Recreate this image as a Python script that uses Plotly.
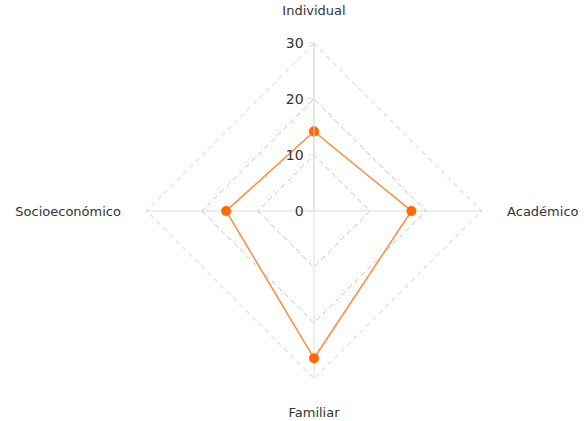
import plotly.graph_objects as go

categories = ["Individual", "Académico", "Familiar", "Socioeconómico"]
values = [14.2, 17.4, 26.3, 15.7]
radial_ticks = [0, 10, 20, 30]
r_max = 30

grid_color = "#c6c6c6"
grid_dash = "5px,4px"

fig = go.Figure()
# outer dashed grid polygon at the maximum tick
fig.add_trace(go.Scatterpolar(
    r=[r_max] * (len(categories) + 1),
    theta=categories + categories[:1],
    mode="lines",
    line=dict(color=grid_color, width=1.3, dash=grid_dash),
    hoverinfo="skip",
    showlegend=False,
))
fig.add_trace(go.Scatterpolar(
    r=values + values[:1],
    theta=categories + categories[:1],
    mode="lines+markers",
    line=dict(color="#ff8c3a", width=1.5),
    marker=dict(color="#ff6a00", size=10),
    showlegend=False,
))

fig.update_layout(
    width=584, height=421,
    margin=dict(l=146, r=102, t=43, b=42),
    paper_bgcolor="white",
    font=dict(family="DejaVu Sans, Verdana, sans-serif", size=13, color="#333"),
    polar=dict(
        bgcolor="white",
        gridshape="linear",
        angularaxis=dict(
            rotation=90, direction="clockwise",
            categoryorder="array", categoryarray=categories,
            showline=False,
            gridcolor="#dddddd", gridwidth=1,
            ticks="outside", ticklen=22, tickcolor="rgba(0,0,0,0)",
            tickfont=dict(size=13, color="#333"),
        ),
        radialaxis=dict(
            range=[0, r_max], tickvals=radial_ticks, angle=90, tickangle=90,
            side="counterclockwise",
            showline=True, linecolor="#dddddd",
            gridcolor=grid_color, griddash=grid_dash, gridwidth=1.2,
            ticks="outside", ticklen=5, tickcolor="#dddddd",
            tickfont=dict(size=14, color="#333"),
        ),
    ),
)

fig.write_html("out.html", post_script="document.body.style.margin='0';",
               config={"displayModeBar": False})
